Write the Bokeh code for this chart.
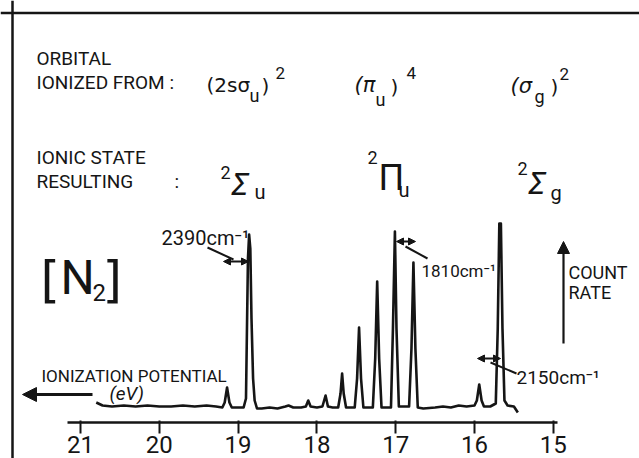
from bokeh.plotting import figure
from bokeh.models import (Range1d, LinearAxis, FixedTicker, Label, Arrow,
                          NormalHead, Span, ColumnDataSource)
from bokeh.embed import file_html
from bokeh.resources import INLINE

# ---------------- data ----------------
ionization_ev = [20.80, 20.72, 20.60, 20.45, 20.30, 20.15, 20.00, 19.85, 19.70,
                 19.55, 19.40, 19.28, 19.20, 19.17, 19.14, 19.11, 19.08, 19.00,
                 18.93, 18.90, 18.875, 18.86, 18.845, 18.83, 18.81, 18.79, 18.76,
                 18.70, 18.60, 18.50, 18.40, 18.36, 18.30, 18.20, 18.14, 18.11,
                 18.08, 18.00, 17.93, 17.89, 17.86, 17.80, 17.73, 17.70, 17.68,
                 17.66, 17.63, 17.52, 17.49, 17.465, 17.44, 17.41, 17.29, 17.26,
                 17.235, 17.21, 17.18, 17.06, 17.035, 17.01, 16.99, 16.96, 16.83,
                 16.80, 16.775, 16.75, 16.72, 16.65, 16.50, 16.40, 16.30, 16.20,
                 16.10, 16.00, 15.97, 15.94, 15.91, 15.88, 15.80, 15.73, 15.705,
                 15.685, 15.665, 15.645, 15.62, 15.58, 15.50, 15.45]
count_rate = [6, 3, 2, 3, 2, 3, 2, 2, 3,
              2, 3, 2, 1, 6, 21, 6, 1, 1,
              1, 10, 150, 174, 160, 90, 30, 8, 0,
              0, 1, 0, 2, 3, 1, 1, 2, 8,
              2, 1, 2, 13, 2, 1, 1, 15, 35,
              15, 1, 1, 30, 81, 30, 1, 1, 50,
              127, 50, 1, 1, 80, 177, 80, 2, 2,
              60, 146, 60, 1, 0, 1, 2, 1, 3,
              2, 3, 8, 24, 8, 2, 2, 5, 80,
              185, 185, 80, 8, 3, 2, -4]
ev_ticks = [21, 20, 19, 18, 17, 16, 15]

orbital_labels = ["(2sσ", "(π", "(σ"]
ionic_labels = ["Σ", "Π", "Σ"]
spacings = ["2390cm⁻¹", "1810cm⁻¹", "2150cm⁻¹"]

# ---------------- figure ----------------
W, H = 639, 458
PX_PER_EV = 78.8
X0, X1 = 21 + 80 / PX_PER_EV, 21 - (W - 80) / PX_PER_EV
Y1 = 408
Y0 = Y1 - H


def ex(px):  # page pixel -> eV
    return X0 + px * (X1 - X0) / W


def cy(py):  # page pixel -> count units
    return Y1 - py


p = figure(width=W, height=H, output_backend="svg", toolbar_location=None,
           x_range=Range1d(X0, X1), y_range=Range1d(Y0, Y1),
           x_axis_location=None, y_axis_location=None, min_border=0)
p.outline_line_color = None
p.background_fill_color = "white"
p.border_fill_color = "white"
for g in list(p.center):
    g.visible = False

INK = "#151515"
FONT = "Roboto"
GREEK = "DejaVu Sans"

src = ColumnDataSource(dict(x=ionization_ev, y=count_rate))
p.line("x", "y", source=src, line_color=INK, line_width=2.6, line_join="round")

ax = LinearAxis(fixed_location=cy(422), bounds=(ex(67), ex(557)),
                ticker=FixedTicker(ticks=ev_ticks))
ax.axis_line_width = 2.6
ax.axis_line_color = INK
ax.major_tick_line_width = 2
ax.major_tick_line_color = INK
ax.major_tick_out = 11
ax.major_tick_in = 2
ax.minor_tick_line_color = None
ax.major_label_standoff = 2
ax.major_label_text_font = FONT
ax.major_label_text_font_size = "24px"
ax.major_label_text_color = INK
p.add_layout(ax, "below")

# frame lines (left and top)
p.add_layout(Span(location=ex(12), dimension="height", line_color=INK, line_width=2.5))
p.add_layout(Span(location=cy(12.5), dimension="width", line_color=INK, line_width=2.5))


def lab(txt, px, py, size, style="normal", font=FONT, align="left"):
    p.add_layout(Label(x=ex(px), y=cy(py), text=txt, text_font=font,
                       text_font_size=f"{size}px", text_font_style=style,
                       text_align=align, text_baseline="middle", text_color=INK))


def arrow(x0, y0, x1, y1, lw=2, head=None, start=None):
    p.add_layout(Arrow(x_start=ex(x0), y_start=cy(y0), x_end=ex(x1), y_end=cy(y1),
                       line_width=lw, line_color=INK, end=head, start=start))


def nh(s):
    return NormalHead(size=s, line_color=INK, fill_color=INK, line_width=1)


# header rows
lab("ORBITAL", 36, 58, 19)
lab("IONIZED FROM :", 36, 82, 19)
lab("IONIC STATE", 36, 157, 19)
lab("RESULTING", 36, 181, 19)
lab(":", 174, 181, 19)

# (2s sigma_u)^2
lab(orbital_labels[0], 206, 84, 20, font=GREEK)
lab("u", 249, 95, 18)
lab(")", 261, 85, 20, font=GREEK)
lab("2", 275, 72, 17)
# (pi_u)^4
lab(orbital_labels[1], 354, 84, 21, "italic", font=GREEK)
lab("u", 375, 99, 18)
lab(")", 390, 86, 20, font=GREEK)
lab("4", 406, 72, 17)
# (sigma_g)^2
lab(orbital_labels[2], 510, 85, 21, "italic", font=GREEK)
lab("g", 534, 96, 18)
lab(")", 550, 86, 20, font=GREEK)
lab("2", 559, 73, 17)

# ionic states
lab("2", 220, 172, 18)
lab(ionic_labels[0], 230, 184, 30, "italic", font=GREEK)
lab("u", 254, 191, 20)
lab("2", 367, 157, 18)
lab(ionic_labels[1], 378, 177, 36, font=FONT)
lab("u", 398, 189, 20)
lab("2", 517, 168, 18)
lab(ionic_labels[2], 527, 183, 30, "italic", font=GREEK)
lab("g", 550, 192, 20)

# [N2]
lab("[", 40, 279, 50, font=GREEK)
lab("N", 60, 277, 48)
lab("2", 92, 292, 24)
lab("]", 102, 279, 50, font=GREEK)

# spacing annotations
lab(spacings[0], 161, 237, 20)
arrow(223, 261, 248, 261, lw=2, head=nh(7), start=nh(7))
arrow(207, 247, 233, 259, lw=2)
lab(spacings[1], 421, 270, 17)
arrow(396, 241, 415, 241, lw=2, head=nh(7), start=nh(7))
arrow(405, 246, 427, 258, lw=2)
lab(spacings[2], 516, 377, 19)
arrow(477, 358, 500, 358, lw=2, head=nh(7), start=nh(7))
arrow(490, 362, 516, 373, lw=2)

# count rate
arrow(563, 343, 563, 241, lw=2.2, head=nh(12))
lab("COUNT", 568, 272, 18)
lab("RATE", 568, 292, 18)

# ionization potential
lab("IONIZATION POTENTIAL", 41, 375, 17)
lab("(eV)", 109, 393, 19, "italic")
arrow(92, 394, 22, 394, lw=3, head=nh(14))

open("out.html", "w").write(file_html(p, INLINE))
